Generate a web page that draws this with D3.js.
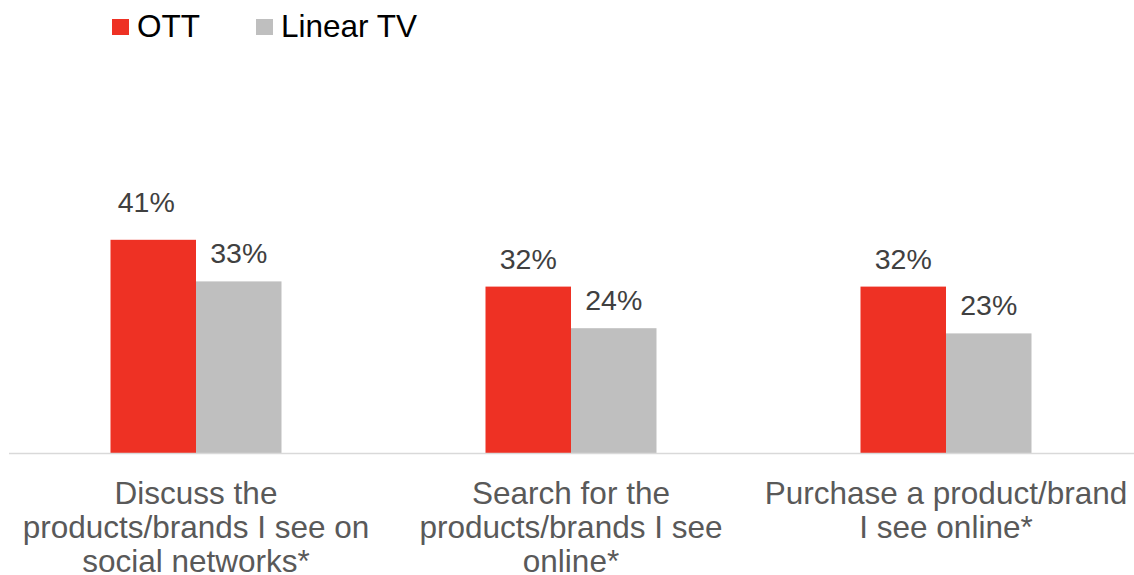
<!DOCTYPE html>
<html>
<head>
<meta charset="utf-8">
<script src="https://cdn.jsdelivr.net/npm/d3@7"></script>
<style>
  html, body { margin: 0; padding: 0; background: #ffffff; }
  svg { display: block; }
  text { font-family: "Liberation Sans", Arial, sans-serif; }
</style>
</head>
<body>
<svg id="chart" width="1134" height="575"></svg>
<script>
// Chart data
const categories = [
  "Discuss the\nproducts/brands I see on\nsocial networks*",
  "Search for the\nproducts/brands I see\nonline*",
  "Purchase a product/brand\nI see online*"
];
const seriesNames = ["OTT", "Linear TV"];
const ottValues = [41, 32, 32];
const linearTvValues = [33, 24, 23];
const seriesColors = ["#EE3124", "#BFBFBF"];

const seriesValues = [ottValues, linearTvValues];

const svg = d3.select("#chart");
const baseY = 453;

// Scales
const x0 = d3.scaleBand()
  .domain(categories)
  .range([8.5, 1133.5])
  .paddingInner(0.544)
  .paddingOuter(0.272);

const x1 = d3.scaleBand()
  .domain(seriesNames)
  .range([0, x0.bandwidth()])
  .padding(0);

const y = d3.scaleLinear()
  .domain([0, 50])
  .range([baseY, baseY - 260]);

const color = d3.scaleOrdinal().domain(seriesNames).range(seriesColors);

// Flatten into bar records
const bars = [];
categories.forEach((c, ci) => {
  seriesNames.forEach((s, si) => {
    bars.push({ category: c, series: s, value: seriesValues[si][ci], ci, si });
  });
});

// Bars
svg.append("g")
  .selectAll("rect")
  .data(bars)
  .join("rect")
  .attr("x", d => x0(d.category) + x1(d.series))
  .attr("y", d => y(d.value))
  .attr("width", x1.bandwidth())
  .attr("height", d => y(0) - y(d.value))
  .attr("fill", d => color(d.series));

// Value labels (the tallest one sits a little higher and to the left)
const maxVal = d3.max(bars, d => d.value);
svg.append("g")
  .selectAll("text")
  .data(bars)
  .join("text")
  .attr("x", d => x0(d.category) + x1(d.series) + x1.bandwidth() / 2 + (d.value === maxVal ? -7 : 0))
  .attr("y", d => y(d.value) - (d.value === maxVal ? 28 : 18))
  .attr("text-anchor", "middle")
  .attr("font-size", 28.5)
  .attr("fill", "#404040")
  .text(d => d.value + "%");

// Category axis
const xAxis = d3.axisBottom(x0).tickSize(0).tickFormat("");
const axisG = svg.append("g")
  .attr("transform", `translate(0,${baseY + 0.5})`)
  .call(xAxis);
axisG.select(".domain")
  .attr("d", `M9,0H1134`)
  .attr("stroke", "#D9D9D9")
  .attr("stroke-width", 1.5);

// Category labels, wrapped on explicit line breaks
const catG = svg.append("g");
categories.forEach(c => {
  const lines = c.split("\n");
  const t = catG.append("text")
    .attr("text-anchor", "middle")
    .attr("font-size", 31.5)
    .attr("fill", "#595959");
  lines.forEach((ln, i) => {
    t.append("tspan")
      .attr("x", x0(c) + x0.bandwidth() / 2)
      .attr("y", 504 + i * 34)
      .text(ln);
  });
});

// Legend
const legendItems = [
  { name: seriesNames[0], x: 112 },
  { name: seriesNames[1], x: 256 }
];
const lg = svg.append("g");
legendItems.forEach(it => {
  lg.append("rect")
    .attr("x", it.x)
    .attr("y", 19)
    .attr("width", 17)
    .attr("height", 16)
    .attr("fill", color(it.name));
  lg.append("text")
    .attr("x", it.x + 25)
    .attr("y", 36.5)
    .attr("font-size", 31.5)
    .attr("fill", "#000000")
    .text(it.name);
});
</script>
</body>
</html>
